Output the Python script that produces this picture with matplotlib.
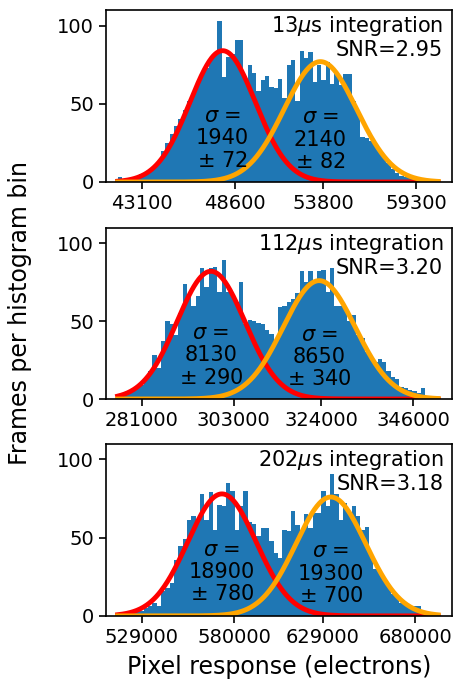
import numpy as np
import matplotlib
matplotlib.use("Agg")
import matplotlib.pyplot as plt

# ---------------- data ----------------
integration_labels = ["13$\\mu$s integration", "112$\\mu$s integration", "202$\\mu$s integration"]
snr_labels = ["SNR=2.95", "SNR=3.20", "SNR=3.18"]

hist_range_1 = (41662, 60613)
hist_range_2 = (275167, 352031)
hist_range_3 = (515568, 692576)

counts_1 = [3, 2, 2, 3, 4, 5, 6, 8, 10, 12, 20, 25, 31, 36, 40, 46, 52, 56, 63, 68,
            73, 78, 82, 103, 67, 80, 82, 91, 91, 66, 75, 70, 58, 65, 68, 61, 60, 66, 54, 75,
            78, 52, 84, 79, 83, 64, 75, 65, 77, 63, 70, 62, 69, 69, 52, 45, 29, 28, 26, 24,
            20, 16, 12, 8, 6, 4, 3, 3, 2, 1, 1, 1, 0, 1]
counts_2 = [3, 4, 4, 5, 7, 9, 12, 18, 28, 20, 37, 50, 48, 41, 55, 74, 66, 60, 66, 84,
            72, 84, 85, 69, 89, 69, 67, 62, 75, 48, 51, 50, 49, 48, 44, 42, 37, 59, 60, 62,
            64, 68, 82, 75, 82, 76, 82, 83, 69, 84, 60, 60, 58, 50, 54, 41, 39, 30, 27, 24,
            26, 24, 18, 14, 13, 8, 7, 6, 5, 4, 7, 2, 1, 1]
counts_3 = [1, 2, 2, 2, 3, 3, 5, 6, 8, 6, 16, 18, 21, 36, 45, 49, 61, 64, 61, 78,
            61, 79, 55, 71, 70, 85, 80, 55, 70, 80, 60, 59, 51, 56, 56, 48, 40, 37, 55, 54,
            67, 58, 55, 65, 56, 66, 66, 80, 70, 91, 78, 61, 72, 66, 70, 64, 55, 57, 40, 30,
            28, 23, 19, 14, 12, 8, 8, 6, 6, 6, 2, 1, 1, 1]

# Gaussian fits: (amplitude, mean, sigma)
fit_red = [(84, 47870, 1940), (82, 297540, 8130), (78, 573160, 18900)]
fit_orange = [(77, 53650, 2140), (76, 323500, 8650), (76, 633330, 19300)]
sigma_texts_red = ["$\\sigma$ =\n1940\n$\\pm$ 72", "$\\sigma$ =\n8130\n$\\pm$ 290", "$\\sigma$ =\n18900\n$\\pm$ 780"]
sigma_texts_orange = ["$\\sigma$ =\n2140\n$\\pm$ 82", "$\\sigma$ =\n8650\n$\\pm$ 340", "$\\sigma$ =\n19300\n$\\pm$ 700"]

xticks_1 = [43100, 48600, 53800, 59300]
xticks_2 = [281000, 303000, 324000, 346000]
xticks_3 = [529000, 580000, 629000, 680000]
xlims = [(40972, 61421), (272371, 355307), (509128, 700120)]

yticks = [0, 50, 100]

# ---------------- plot ----------------
plt.rcParams['font.family'] = ['DejaVu Sans']
fig = plt.figure(figsize=(4.55, 6.92), dpi=100)

ax_boxes = [
    [0.233, 0.737, 0.760, 0.2485],
    [0.233, 0.4234, 0.760, 0.2476],
    [0.233, 0.110, 0.760, 0.2486],
]

ranges = [hist_range_1, hist_range_2, hist_range_3]
counts_all = [counts_1, counts_2, counts_3]
xticks_all = [xticks_1, xticks_2, xticks_3]

def gauss(x, a, m, s):
    return a * np.exp(-0.5 * ((x - m) / s) ** 2)

for k in range(3):
    ax = fig.add_axes(ax_boxes[k])
    lo, hi = ranges[k]
    cnt = np.array(counts_all[k], dtype=float)
    edges = np.linspace(lo, hi, len(cnt) + 1)
    centers = 0.5 * (edges[:-1] + edges[1:])
    ax.hist(centers, bins=edges, weights=cnt, color='#1f77b4')

    xs = np.linspace(lo, hi, 400)
    ar, mr, sr = fit_red[k]
    ao, mo, so = fit_orange[k]
    ax.plot(xs, gauss(xs, ar, mr, sr), color='red', lw=3.5)
    ax.plot(xs, gauss(xs, ao, mo, so), color='orange', lw=3.5)

    ax.text(mr, 28, sigma_texts_red[k], ha='center', va='center', fontsize=15,
            linespacing=1.15)
    ax.text(mo, 27, sigma_texts_orange[k], ha='center', va='center', fontsize=15,
            linespacing=1.15)

    ax.text(0.975, 0.975, integration_labels[k] + "\n" + snr_labels[k],
            transform=ax.transAxes, ha='right', va='top', fontsize=15,
            linespacing=1.1)

    ax.set_xlim(*xlims[k])
    ax.set_ylim(0, 110)
    ax.set_xticks(xticks_all[k])
    ax.set_xticklabels([str(v) for v in xticks_all[k]])
    ax.set_yticks(yticks)
    ax.tick_params(labelsize=14, length=5, width=1.2)
    for sp in ax.spines.values():
        sp.set_linewidth(1.2)

    if k == 1:
        ax.set_ylabel("Frames per histogram bin", fontsize=17, labelpad=18)
    if k == 2:
        ax.set_xlabel("Pixel response (electrons)", fontsize=17, labelpad=6)

fig.savefig("out.png", dpi=100)
